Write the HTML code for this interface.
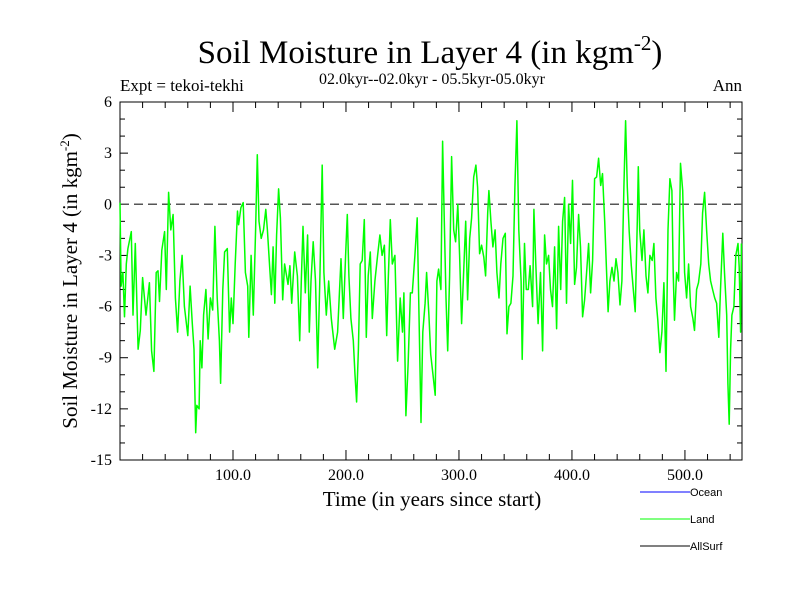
<!DOCTYPE html>
<html><head><meta charset="utf-8"><style>
body{margin:0;background:#fff}
svg{display:block;font-family:"Liberation Serif",serif}
</style></head><body>
<svg id="chart" width="800" height="600" viewBox="0 0 800 600">
<text x="430" y="63" font-size="33" text-anchor="middle">Soil Moisture in Layer 4 (in kgm<tspan dy="-13" font-size="21">-2</tspan><tspan dy="13">)</tspan></text>
<text x="432" y="84" font-size="16" text-anchor="middle">02.0kyr--02.0kyr - 05.5kyr-05.0kyr</text>
<text x="120" y="91" font-size="17">Expt = tekoi-tekhi</text>
<text x="742" y="91" font-size="17" text-anchor="end">Ann</text>
<text transform="translate(77,281) rotate(-90)" font-size="21" text-anchor="middle">Soil Moisture in Layer 4 (in kgm<tspan dy="-8" font-size="13">-2</tspan><tspan dy="8">)</tspan></text>
<text x="432" y="506" font-size="21" text-anchor="middle">Time (in years since start)</text>
<g id="axes"></g>
<g id="series"></g>
<g font-family="Liberation Sans, sans-serif" font-size="11">
<line x1="640" y1="492" x2="690" y2="492" stroke="#0000ff"/>
<text x="690" y="496">Ocean</text>
<line x1="640" y1="519" x2="690" y2="519" stroke="#00ff00"/>
<text x="690" y="523">Land</text>
<line x1="640" y1="546" x2="690" y2="546" stroke="#000"/>
<text x="690" y="550">AllSurf</text>
</g>
</svg>
<script>
const years=[0,1,2.6,4,5.6,7,10,11.5,13.5,16,18,20,23,26,28,30,32,33.6,35,37,39.5,41,43,45,47,49,51,53,55,57,60,62,64,65.5,67,68,70,71,72.5,74,76,78,80,82,84,86,88,89,91,92.6,95,97,98.5,100,102,104,105,107,109,111,113,114,116,118,120,121.5,123,125,127,129,130.5,132.5,134,135.5,137,138.6,140.4,142,144,145.7,148.7,150.4,152,154.6,157,159,160.5,162,164,166,167.5,169,171,173,175,177,179,180.5,182.6,184.7,187,190,192.6,195.6,197.6,199.7,201.2,202.6,204.4,206.5,208,209.4,211,212.6,214.4,216.2,218,219.7,221.5,223.3,225.6,228,230,232,234,236,237.4,239.2,241,243.3,245.7,248,250,251.3,253,255,257,258.7,261,263,264.6,266.4,268,270,271.4,273.4,275,277,279,280.5,282,284,285.5,287,288.5,290,291.7,293.5,295.3,297,299,300.6,302.3,304,306,307.6,309.5,311.2,313,315,316.5,318.3,320,322,323.6,325.4,326.5,328.3,330,332,333.6,335.4,337,339,341,342.5,344.2,346,347.8,349.5,351.3,353,355,356,358,359.6,361.4,363,365.2,366.3,368,370,372.2,374,375.8,377.5,379.3,381,382.8,384.6,386.4,388.2,390,391.7,393.5,395.2,397,398.8,400.5,402.3,404,405.9,407.6,409.4,411.2,413,414.7,416.5,418.3,420,421.8,423.6,425.4,427,429,430.7,432,433.6,435.4,437.2,439,440.7,442.5,444.2,446,447.5,449,450.7,452.5,454.3,456,457.8,458.7,460,462,463.7,465.5,467.2,469,471,472.5,474.3,476,477.8,479.6,481.4,483.2,485,486.7,488.5,489.6,490.8,492.6,494.4,496.1,498,499.7,501.5,503.2,505,507,508.5,510.3,512,514,515.6,517.4,519.2,521,522.7,524.5,526.3,528,530,531.5,533.5,535,537,538,539.2,540.4,541.6,543.3,545,547,548,549.3,550];
const landValues=[0.1,-4.8,-4,-6.6,-3.5,-2.6,-1.6,-6.5,-2.3,-8.5,-7.4,-4.3,-6.5,-4.6,-8.6,-9.8,-4,-3.9,-5.7,-2.7,-1.6,-5,0.7,-1.5,-0.6,-5.5,-7.5,-4.5,-3,-6,-7.7,-4.8,-7,-8.5,-13.4,-11.8,-12,-8,-9.6,-6.5,-5,-7.9,-5.5,-6.2,-1.3,-5.5,-8,-10.5,-5,-2.8,-2.6,-7.5,-5.5,-7,-3.5,-0.4,-1.2,-0.2,0.1,-4,-4.8,-7.8,-3,-6.5,-1.5,2.9,-1,-2,-1.5,-0.3,-1.5,-3.7,-5.3,-2.5,-5.8,-1.8,0.9,-0.8,-5.6,-3.5,-4.7,-3.6,-5.8,-2.8,-4.2,-8,-4.5,-1.3,-5.2,-1.8,-7.5,-4.5,-2.2,-4.5,-9.6,-4,2.3,-4,-6.5,-4.5,-6.7,-8.5,-7.5,-3.2,-6.7,-3,-0.6,-4.2,-6.7,-8,-10,-11.6,-8.5,-3.5,-3.3,-0.9,-7.8,-4.2,-2.8,-6.7,-4.5,-3,-1.8,-3,-2.4,-7.7,-4.5,-0.9,-3.5,-3,-9.2,-5.5,-7.5,-5.2,-12.4,-9.4,-5.2,-5.2,-3,-0.8,-6.5,-12.8,-7.5,-5.8,-4,-6.5,-8.8,-10,-11.2,-4.5,-3.8,-5,3.7,-1,-5.5,-8.6,-4.2,2.8,-1.5,-2.2,0,-3,-7,-4.2,-1,-5.6,-2,-0.8,1.6,2.3,1,-2.9,-2.4,-3.1,-4.2,-0.5,0.8,-1,-2.5,-1.5,-4,-5.5,-3.5,-2,-1.7,-7.6,-6,-5.8,-4.2,1,4.9,-1.5,-4.5,-9.1,-2.3,-5,-5,-3.6,-6,-0.3,-3.5,-7,-4,-8.6,-1.8,-3.5,-3,-5,-6,-2.5,-7.3,-1.3,-5,-1,0.4,-5.8,0,-2.3,1.4,-4.7,-3.7,-0.6,-2.5,-6.6,-5.6,-4,-2.3,-5.2,-3.3,1.5,1.6,2.7,1.1,1.8,-1,-4,-6.3,-4.5,-3.7,-4.5,-3.2,-4,-5.9,-4.5,1,4.9,1,-1.6,-3.6,-5,-6.3,-1,2.2,-1.5,-3.3,-1.5,-4.2,-5.2,-3,-3.3,-2.3,-5.5,-6.8,-8.7,-7.5,-4.6,-9.8,-1.5,1.5,0.8,-4,-6.8,-4,-4.5,2.4,0.8,-4,-5.5,-3.5,-6,-6.7,-7.4,-5,-4.6,-3.5,-0.5,0.7,-1.5,-3.5,-4.5,-5,-5.5,-5.8,-7.8,-5,-1.7,-4,-6.5,-10.5,-12.9,-8.5,-6.5,-6,-3,-2.3,-3.7,-7.5,-2.3];
const yTicks=[6,3,0,-3,-6,-9,-12,-15];
const xTicks=[100,200,300,400,500];
const xTickLabels=["100.0","200.0","300.0","400.0","500.0"];

const X0=120,X1=742,Y0=102,Y1=460,XMIN=0,XMAX=550.5,YMIN=-15,YMAX=6;
const sx=v=>X0+(v-XMIN)/(XMAX-XMIN)*(X1-X0);
const sy=v=>Y0+(YMAX-v)/(YMAX-YMIN)*(Y1-Y0);
const NS="http://www.w3.org/2000/svg";
const axes=document.getElementById('axes');
function mk(tag,attrs,parent){const e=document.createElementNS(NS,tag);for(const k in attrs)e.setAttribute(k,attrs[k]);parent.appendChild(e);return e;}

const frame=mk('rect',{x:X0,y:Y0,width:X1-X0,height:Y1-Y0,fill:'none',stroke:'#000','stroke-width':1},axes);



for(let v=YMIN;v<=YMAX;v++){
  const major=yTicks.includes(v);const len=major?8:5;const y=sy(v);
  const t1=mk('line',{x1:X0,y1:y,x2:X0+len,y2:y,stroke:'#000'},axes);
  
  
  const t2=mk('line',{x1:X1,y1:y,x2:X1-len,y2:y,stroke:'#000'},axes);
  
  
}
yTicks.forEach(v=>{
  const t=mk('text',{x:X0-8,y:sy(v)+5,'font-size':16,'text-anchor':'end'},axes);
  t.textContent=v;
  
  
});
for(let v=20;v<XMAX;v+=20){
  const major=v%100===0;const len=major?10:6;const x=sx(v);
  const t1=mk('line',{x1:x,y1:Y1,x2:x,y2:Y1-len,stroke:'#000'},axes);
  
  
  const t2=mk('line',{x1:x,y1:Y0,x2:x,y2:Y0+len,stroke:'#000'},axes);
  
  
}
xTicks.forEach((v,i)=>{
  const t=mk('text',{x:sx(v),y:Y1+20,'font-size':16,'text-anchor':'middle'},axes);
  t.textContent=xTickLabels[i];
  
  
});
const zero=mk('line',{x1:X0,y1:sy(0),x2:X1,y2:sy(0),stroke:'#555','stroke-width':1.5,'stroke-dasharray':'9,5'},axes);



const series=document.getElementById('series');
let d='';
years.forEach((yr,i)=>{d+=(i?'L':'M')+sx(yr).toFixed(1)+','+sy(landValues[i]).toFixed(1);});
const p=mk('path',{d:d,fill:'none',stroke:'#00ff00','stroke-width':1.5,'stroke-linejoin':'round'},series);


</script>
</body></html>
